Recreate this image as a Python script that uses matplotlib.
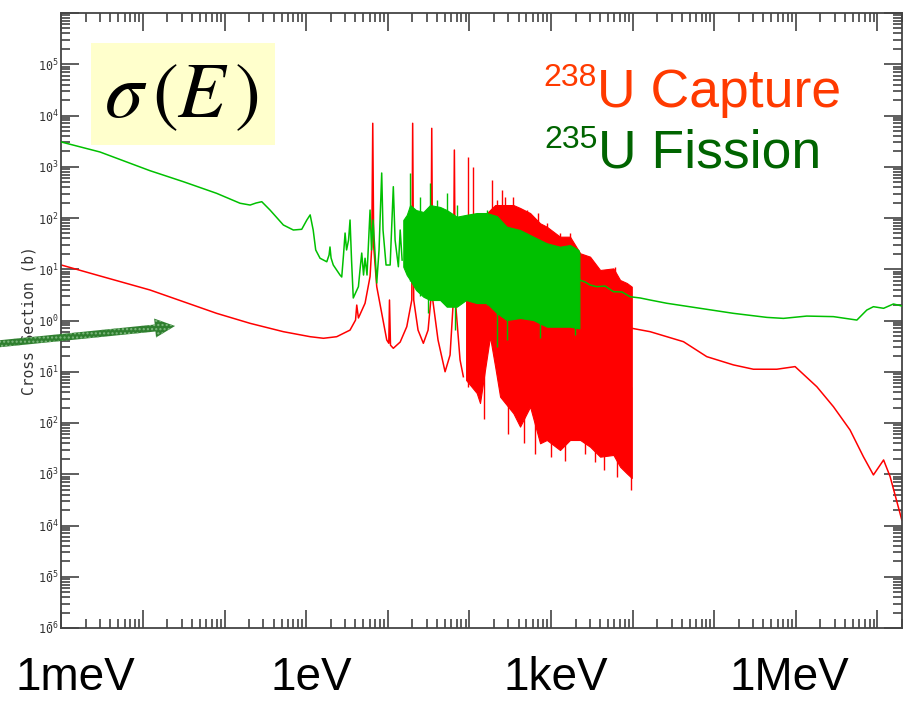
"""U-238 capture and U-235 fission cross sections, sigma(E), log-log."""

import numpy as np
import matplotlib

matplotlib.use("Agg")
import matplotlib.pyplot as plt
from matplotlib.patches import Rectangle, FancyArrow
from matplotlib.ticker import LogLocator, FuncFormatter, NullFormatter
from matplotlib.transforms import IdentityTransform

W, H = 909, 702

# --- U-238 capture, energies in eV, sigma in barns ---
cap_E_low = [0.001, 0.00298, 0.0122, 0.0313, 0.080, 0.206, 0.526, 1.12, 1.63, 2.37,
             3.45, 4.03, 4.17, 4.37, 5.27, 6.07, 6.37, 6.55, 6.73, 7.33,
             9.72, 10.3, 10.5, 10.8, 11.7, 14.2, 17.1, 19.7, 20.2, 20.8,
             23.5, 27.3, 31.2, 33.7, 34.6, 35.6, 41.3, 50.4, 58, 63.7,
             65.5, 67.3, 76.9, 84.4]
cap_xs_low = [12.1, 7.4, 3.94, 2.33, 1.38, 0.88, 0.605, 0.483, 0.45, 0.483,
              0.65, 1.02, 2.0, 1.12, 2.17, 7.2, 27.5, 7050, 27.5, 4.57,
              0.417, 0.36, 2.51, 0.33, 0.287, 0.38, 0.757, 2.51, 7050, 2.51,
              0.65, 0.359, 0.65, 2.51, 5620, 2.51, 0.417, 0.10, 0.212, 2.51,
              2120, 2.51, 0.17, 0.08]

# dense resonance band: upper / lower envelope
cap_band_E = [91.2, 123, 135, 179, 207, 238, 346, 418, 555, 735,
              889, 1290, 1710, 2280, 3010, 4000, 5820, 7030, 8490, 9770]
cap_band_hi = [23.8, 58.3, 91.4, 143, 179, 179, 179, 157, 125, 78.9,
               67.6, 43.2, 43.2, 20.5, 17.6, 9.67, 10.4, 6.17, 5.39, 4.57]
cap_band_lo = [0.069, 0.0385, 0.0245, 0.483, 0.126, 0.0326, 0.0155, 0.0085, 0.0208, 0.00402,
               0.00466, 0.00297, 0.00466, 0.00466, 0.00345, 0.0022, 0.00238, 0.0014, 0.00104, 0.000845]

cap_spike_E = [97.2, 112, 188, 217, 249, 274, 346, 505, 555, 701, 889, 1290, 1710, 6110]
cap_spike_top = [1570, 1000, 551, 224, 352, 261, 261, 143, 106, 124, 78.9, 50.2, 50.2, 11.2]
cap_spike_base = [0.05, 0.05, 1, 1, 1, 1, 1, 1, 1, 1, 1, 1, 1, 0.1]

# downward spikes below the red band's lower edge
cap_dip_E = [150, 300, 470, 640, 1000, 1500, 2600, 3500, 4500, 6500, 9500]
cap_dip_low = [0.012, 0.006, 0.004, 0.0025, 0.0022, 0.0018, 0.0025, 0.0017, 0.0012, 0.0009, 0.0005]
cap_dip_base = [0.1, 0.1, 0.1, 0.1, 0.05, 0.05, 0.05, 0.05, 0.05, 0.05, 0.05]

cap_E_high = [9770, 16400, 42000, 81100, 1.72e5, 3.02e5, 5.85e5, 9.8e5,
              1.81e6, 2.89e6, 4.62e6, 6.73e6, 8.93e6, 1.19e7, 1.43e7, 1.99e7]
cap_xs_high = [0.705, 0.605, 0.386, 0.197, 0.136, 0.112, 0.112, 0.126,
               0.051, 0.0208, 0.0073, 0.0022, 0.00097, 0.0019, 0.0009, 0.000128]

# --- U-235 fission ---
fis_E_low = [0.001, 0.00298, 0.0122, 0.0313, 0.080, 0.155, 0.206, 0.243, 0.286, 0.361,
             0.526, 0.697, 0.883, 1.02, 1.12, 1.22, 1.31, 1.48, 1.79, 1.91,
             1.96, 2.02, 2.15, 2.60, 2.73, 2.87, 3.0, 3.13, 3.31, 3.45,
             3.60, 3.78, 4.08, 4.37, 4.57, 4.80, 5.05, 5.27, 5.57, 6.07,
             6.33, 6.61, 7.33, 7.82, 8.43, 8.75, 9.53, 10.7, 11.7, 12.3,
             13.5, 14.2, 15.0]
fis_xs_low = [3040, 1940, 838, 511, 303, 194, 179, 196, 208, 143,
              73, 58.3, 60.2, 91.4, 115, 58.3, 23.8, 16.4, 14.0, 19.0,
              27.2, 16.6, 12.1, 7.72, 7.06, 19.0, 50.9, 23.8, 37.2, 91.4,
              15.1, 2.75, 3.6, 4.57, 9.67, 20.7, 7.72, 16.4, 7.72, 143,
              23.8, 91.4, 5.39, 23.8, 755, 58.3, 12.1, 12.1, 408, 37.2,
              11.2, 58.3, 15.1]

fis_band_E = [15.5, 17.1, 18.8, 22.2, 27.3, 33.0, 43.8, 52.8, 70.1, 91.2,
              123, 163, 217, 287, 418, 608, 889, 1290, 1710, 2170, 2230]
fis_band_hi = [91.4, 115, 179, 143, 131, 179, 164, 143, 106, 115,
               125, 125, 109, 67.6, 58.3, 43.2, 32.1, 27.5, 29.7, 23.8, 20.5]
fis_band_lo = [11.2, 7.72, 6.17, 3.94, 2.91, 2.51, 2.51, 1.86, 1.86, 2.51,
               2.19, 2.19, 1.40, 1.02, 1.12, 1.02, 0.757, 0.757, 0.757, 0.705, 0.705]

fis_spike_E = [18.8, 24.9, 33.0, 39.8, 52.8, 70.1, 163]
fis_spike_top = [745, 261, 475, 224, 303, 179, 143]
fis_spike_base = [6, 3, 2.5, 2.5, 2, 2, 2]

fis_dip_E = [31.5, 66.8, 217, 287, 735, 1970]
fis_dip_low = [1.40, 0.653, 0.308, 0.417, 0.456, 0.521]
fis_dip_base = [10, 10, 10, 10, 10, 10]

fis_E_high = [2230, 2620, 3010, 3640, 4600, 5820, 7430, 9310, 12400, 16400,
              26200, 67100, 1.72e5, 4.42e5, 7.05e5, 1.36e6, 2.89e6, 5.6e6,
              7.41e6, 8.93e6, 1.19e7, 1.57e7, 1.99e7]
fis_xs_high = [6.17, 5.64, 4.93, 4.57, 4.71, 3.65, 3.6, 2.91, 2.75, 2.51,
               2.17, 1.73, 1.38, 1.15, 1.10, 1.22, 1.19, 1.02,
               1.60, 1.86, 1.73, 2.10, 1.92]

energy_labels = ["1meV", "1eV", "1keV", "1MeV"]
energy_label_px = [75, 311, 556, 789]

RED = "#ff0000"
GREEN = "#00c000"
INK = "#333333"

fig = plt.figure(figsize=(W / 100, H / 100), dpi=100)
ax = fig.add_axes([61.3 / W, 1 - 628 / H, (902 - 61.3) / W, (628 - 13) / H])
ax.set_xscale("log")
ax.set_yscale("log")
ax.set_xlim(1e-3, 2e7)
ax.set_ylim(1e-6, 1e6)

# U-238 capture
ax.plot(cap_E_low, cap_xs_low, color=RED, lw=1.1, zorder=2)
ax.fill_between(cap_band_E, cap_band_lo, cap_band_hi, color=RED, lw=0.8, zorder=2)
ax.vlines(cap_spike_E, cap_spike_base, cap_spike_top, color=RED, lw=1.0, zorder=2)
ax.vlines(cap_dip_E, cap_dip_low, cap_dip_base, color=RED, lw=1.0, zorder=2)
ax.plot(cap_E_high, cap_xs_high, color=RED, lw=1.1, zorder=2)

# U-235 fission (on top)
ax.plot(fis_E_low, fis_xs_low, color=GREEN, lw=1.1, zorder=3)
ax.fill_between(fis_band_E, fis_band_lo, fis_band_hi, color=GREEN, lw=0.8, zorder=3)
ax.vlines(fis_spike_E, fis_spike_base, fis_spike_top, color=GREEN, lw=1.0, zorder=3)
ax.vlines(fis_dip_E, fis_dip_low, fis_dip_base, color=GREEN, lw=1.0, zorder=3)
ax.plot(fis_E_high, fis_xs_high, color=GREEN, lw=1.1, zorder=3)


def power_label(v, pos):
    e = int(round(np.log10(v)))
    if e >= 6:
        return ""
    if e >= 0:
        return r"$\mathtt{10}^{\mathtt{%d}}$" % e
    return r"$\mathtt{1}\bar{\mathtt{0}}^{\mathtt{%d}}$" % (-e)


for axis in (ax.xaxis, ax.yaxis):
    axis.set_major_locator(LogLocator(base=10, numticks=30))
    axis.set_minor_locator(LogLocator(base=10, subs=np.arange(2, 10), numticks=30))
    axis.set_minor_formatter(NullFormatter())
ax.yaxis.set_major_formatter(FuncFormatter(power_label))
ax.xaxis.set_major_formatter(NullFormatter())

ax.tick_params(which="both", direction="in", top=True, right=True,
               colors=INK, width=1.1, labelsize=8.5, pad=2)
ax.tick_params(which="major", length=13)
ax.tick_params(which="minor", length=6.5)
for spine in ax.spines.values():
    spine.set_color("#444444")
    spine.set_linewidth(1.3)

ax.set_ylabel("Cross Section (b)", fontfamily="DejaVu Sans Mono", fontsize=10.5, color=INK)
ax.yaxis.set_label_coords(-0.03, 0.5)

# sigma(E) box
fig.add_artist(Rectangle((91 / W, 1 - 145 / H), 184 / W, 102 / H, transform=fig.transFigure,
                         facecolor="#ffffcc", edgecolor="none", zorder=5))
fig.text(181 / W, 1 - 95 / H, r"$\sigma\,(E\,)$", math_fontfamily="stix", fontsize=56,
         ha="center", va="center", zorder=6)

# series labels
fig.text(597 / W, 1 - 107 / H, "U Capture", color="#ff3a00", fontsize=38.5,
         family="Liberation Sans", ha="left", va="baseline", zorder=6)
fig.text(597 / W, 1 - 86 / H, "238", color="#ff3a00", fontsize=23,
         family="Liberation Sans", ha="right", va="baseline", zorder=6)
fig.text(598 / W, 1 - 168 / H, "U Fission", color="#006400", fontsize=38.5,
         family="Liberation Sans", ha="left", va="baseline", zorder=6)
fig.text(598 / W, 1 - 148 / H, "235", color="#006400", fontsize=23,
         family="Liberation Sans", ha="right", va="baseline", zorder=6)

# energy labels under the axis
for lab, px in zip(energy_labels, energy_label_px):
    fig.text(px / W, 1 - 690 / H, lab, fontsize=33, family="Liberation Sans",
             color="black", ha="center", va="baseline", zorder=6)

# green pointer arrow entering from the left edge
arrow = FancyArrow(-3, H - 344, 178, 18, width=7, head_width=19, head_length=20,
                   length_includes_head=True, transform=IdentityTransform(),
                   facecolor="#2f7f2f", edgecolor="#7fb87f", hatch="....",
                   linewidth=0, zorder=7)
fig.add_artist(arrow)

fig.savefig("out.png", dpi=100)
plt.close(fig)
